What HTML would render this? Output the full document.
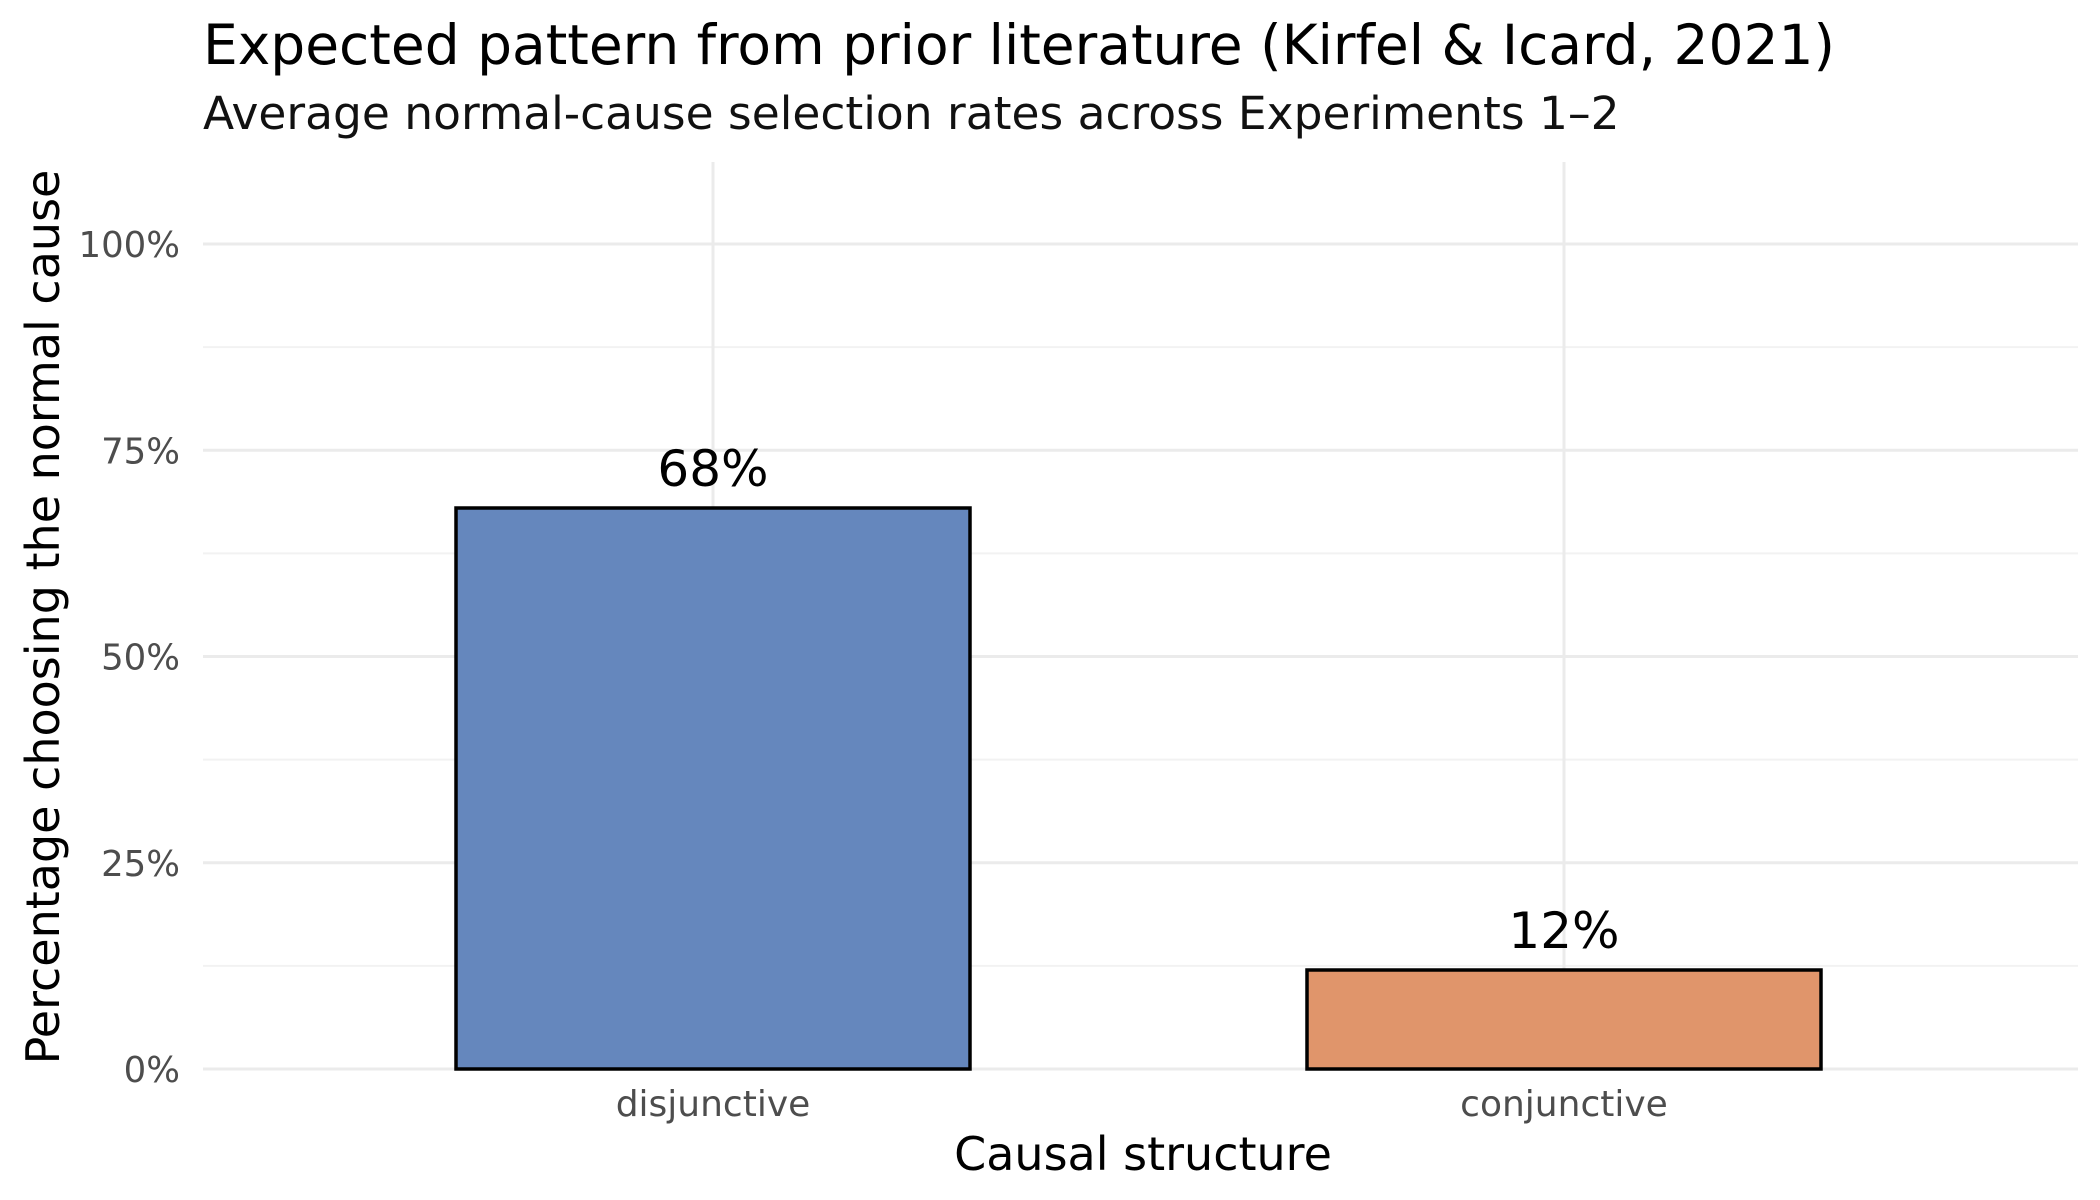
<!DOCTYPE html>
<html><head><meta charset="utf-8"><style>
html,body{margin:0;padding:0;background:#fff;}
svg{display:block;font-family:"DejaVu Sans","Liberation Sans",sans-serif;}
</style></head><body>
<svg id="chart" width="2100" height="1200" viewBox="0 0 2100 1200">
<text x="203" y="64" font-size="55" fill="#000">Expected pattern from prior literature (Kirfel &amp; Icard, 2021)</text>
<text x="203" y="129" font-size="45.5" fill="#111">Average normal-cause selection rates across Experiments 1–2</text>
<g id="grid"></g>
<g id="yticks"></g>
<g id="bars"></g>
<g id="xticks"></g>
<text x="1143" y="1170" font-size="46" text-anchor="middle" fill="#000">Causal structure</text>
<text transform="translate(59,617) rotate(-90)" font-size="46" text-anchor="middle" fill="#000">Percentage choosing the normal cause</text>
</svg>
<script>
const categories = ["disjunctive","conjunctive"];
const values = [68, 12];
const valueLabels = ["68%","12%"];
const yTicks = [0,25,50,75,100];
const yTickLabels = ["0%","25%","50%","75%","100%"];
const colors = ["#6587bd","#e0956b"];

const NS="http://www.w3.org/2000/svg";
const panelL=203, panelR=2078, panelT=162, y0=1069, y100=244;
const y = v => y0 + (y100-y0)*v/100;
const catStep = 851, cat0 = 713;
const x = i => cat0 + i*catStep;
const barW = 514;
function mk(tag, attrs){const e=document.createElementNS(NS,tag);for(const k in attrs)e.setAttribute(k,attrs[k]);return e;}
const grid=document.getElementById('grid');
for(let i=0;i<yTicks.length-1;i++){
  const mv=(yTicks[i]+yTicks[i+1])/2;
  const l=mk('line',{x1:panelL,x2:panelR,y1:y(mv),y2:y(mv),stroke:'#f2f2f2','stroke-width':2});
  
  
  grid.appendChild(l);
}
yTicks.forEach((t,i)=>{
  const l=mk('line',{x1:panelL,x2:panelR,y1:y(t),y2:y(t),stroke:'#ebebeb','stroke-width':3});
  
  
  grid.appendChild(l);
  const tx=mk('text',{x:180,y:y(t)+13,'font-size':35.5,'text-anchor':'end',fill:'#4d4d4d'});
  tx.textContent=yTickLabels[i];
  
  
  document.getElementById('yticks').appendChild(tx);
});
categories.forEach((c,i)=>{
  const l=mk('line',{x1:x(i),x2:x(i),y1:panelT,y2:y0,stroke:'#ebebeb','stroke-width':3});
  
  
  grid.appendChild(l);
  const b=mk('rect',{x:x(i)-barW/2,y:y(values[i]),width:barW,height:y0-y(values[i]),fill:colors[i],stroke:'#000','stroke-width':3.5});
  
  
  document.getElementById('bars').appendChild(b);
  const vl=mk('text',{x:x(i),y:y(values[i])-22,'font-size':50,'text-anchor':'middle',fill:'#000'});
  vl.textContent=valueLabels[i];
  
  
  document.getElementById('bars').appendChild(vl);
  const xl=mk('text',{x:x(i),y:1116,'font-size':36,'text-anchor':'middle',fill:'#4d4d4d'});
  xl.textContent=c;
  
  
  document.getElementById('xticks').appendChild(xl);
});
</script>
</body></html>
